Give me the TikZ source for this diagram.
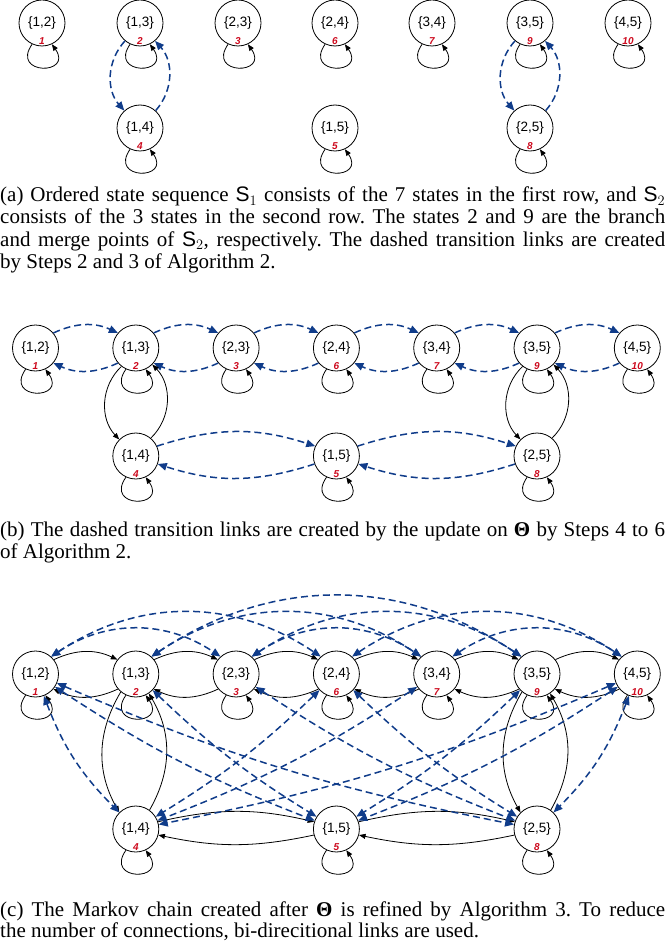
\documentclass[tikz,border=0pt]{standalone}
\usepackage{fontspec}
\setmainfont{Liberation Serif}
\setsansfont{Liberation Sans}
\usetikzlibrary{arrows.meta,calc}
\definecolor{dblue}{RGB}{16,60,138}
\definecolor{idxred}{RGB}{205,10,30}
\frenchspacing
\tikzset{
 st/.style={circle,draw,line width=0.8pt,minimum size=46pt,inner sep=0pt,font=\sffamily\fontsize{13.5}{14}\selectfont},
 idx/.style={inner sep=0pt,text=idxred,font=\sffamily\bfseries\itshape\fontsize{10}{10}\selectfont},
 sl/.style={line width=0.8pt,-{Triangle[length=6.5pt,width=5pt]}},
 dl/.style={draw=dblue,line width=1.5pt,dash pattern=on 7pt off 4pt,-{Triangle[length=9pt,width=7.5pt]}},
 dlb/.style={draw=dblue,line width=1.5pt,dash pattern=on 7pt off 4pt,{Triangle[length=9pt,width=7.5pt]}-{Triangle[length=9pt,width=7.5pt]}},
 captxt/.style={inner sep=0pt,anchor=base west,font=\fontsize{21}{22}\selectfont},
}
\newcommand\mkst[5]{%
 \node[st] (#1#2) at (#4,-#5) {#3};
 \node[idx] (#1#2i) at ([yshift=-18.5pt]#1#2.center) {#2};
 \draw[sl] (#1#2.-115) .. controls +(-125:38) and +(-55:38) .. (#1#2.-65);
}
\begin{document}
\begin{tikzpicture}[x=1pt,y=1pt]
\useasboundingbox (0,0) rectangle (665,-941);
% ---------- panel (a)
\mkst{a}{1}{\{1,2\}}{42}{23}
\mkst{a}{2}{\{1,3\}}{140}{23}
\mkst{a}{3}{\{2,3\}}{238}{23}
\mkst{a}{6}{\{2,4\}}{335}{23}
\mkst{a}{7}{\{3,4\}}{432}{23}
\mkst{a}{9}{\{3,5\}}{530}{23}
\mkst{a}{10}{\{4,5\}}{628}{23}
\mkst{a}{4}{\{1,4\}}{140}{128}
\mkst{a}{5}{\{1,5\}}{335}{128}
\mkst{a}{8}{\{2,5\}}{530}{128}
\draw[dl] (a2.-130) to[bend right=42] (a4.132);
\draw[dl] (a4.48) to[bend right=42] (a2.-50);
\draw[dl] (a9.-130) to[bend right=42] (a8.132);
\draw[dl] (a8.48) to[bend right=42] (a9.-50);
\node[captxt] (capa1) at (0,-202) {\makebox[665pt][s]{(a) Ordered state sequence $\mathsf{S}_1$ consists of the 7 states in the first row, and $\mathsf{S}_2$}};
\node[captxt] (capa2) at (0,-224) {\makebox[665pt][s]{consists of the 3 states in the second row. The states 2 and 9 are the branch}};
\node[captxt] (capa3) at (0,-246) {\makebox[665pt][s]{and merge points of $\mathsf{S}_2$, respectively. The dashed transition links are created}};
\node[captxt] (capa4) at (0,-268) {by Steps 2 and 3 of Algorithm 2.};
% ---------- panel (b)
\mkst{b}{1}{\{1,2\}}{35.5}{348}
\mkst{b}{2}{\{1,3\}}{135.8}{348}
\mkst{b}{3}{\{2,3\}}{236.1}{348}
\mkst{b}{6}{\{2,4\}}{336.4}{348}
\mkst{b}{7}{\{3,4\}}{436.7}{348}
\mkst{b}{9}{\{3,5\}}{537}{348}
\mkst{b}{10}{\{4,5\}}{637.3}{348}
\mkst{b}{4}{\{1,4\}}{135.8}{456}
\mkst{b}{5}{\{1,5\}}{336.4}{456}
\mkst{b}{8}{\{2,5\}}{537}{456}
\foreach \i/\j in {1/2,2/3,3/6,6/7,7/9,9/10}{
 \draw[dl] (b\i.40) to[bend left=25] (b\j.140);
 \draw[dl] (b\j.-140) to[bend left=25] (b\i.-40);
}
\draw[sl] (b2.-128) to[bend right=45] (b4.135);
\draw[sl] (b4.50) to[bend right=45] (b2.-45);
\draw[sl] (b9.-128) to[bend right=45] (b8.135);
\draw[sl] (b8.50) to[bend right=45] (b9.-45);
\draw[dl] (b4.25) to[bend left=18] (b5.155);
\draw[dl] (b5.-160) to[bend left=18] (b4.-20);
\draw[dl] (b5.25) to[bend left=18] (b8.155);
\draw[dl] (b8.-160) to[bend left=18] (b5.-20);
\node[captxt] (capb1) at (0,-536) {\makebox[665pt][s]{(b) The dashed transition links are created by the update on {\bfseries Θ} by Steps 4 to 6}};
\node[captxt] (capb2) at (0,-558) {of Algorithm 2.};
% ---------- panel (c)
\mkst{c}{1}{\{1,2\}}{35.5}{674}
\mkst{c}{2}{\{1,3\}}{135.8}{674}
\mkst{c}{3}{\{2,3\}}{236.1}{674}
\mkst{c}{6}{\{2,4\}}{336.4}{674}
\mkst{c}{7}{\{3,4\}}{436.7}{674}
\mkst{c}{9}{\{3,5\}}{537}{674}
\mkst{c}{10}{\{4,5\}}{637.3}{674}
\mkst{c}{4}{\{1,4\}}{135.8}{829}
\mkst{c}{5}{\{1,5\}}{336.4}{829}
\mkst{c}{8}{\{2,5\}}{537}{829}
\foreach \i/\j in {1/2,2/3,3/6,6/7,7/9,9/10}{
 \draw[sl] (c\i.38) to[bend left=25] (c\j.142);
 \draw[sl] (c\j.-140) to[bend left=25] (c\i.-40);
}
\draw[sl] (c4.18) to[bend left=13] (c5.162);
\draw[sl] (c5.-165) to[bend left=12] (c4.-15);
\draw[sl] (c5.18) to[bend left=13] (c8.162);
\draw[sl] (c8.-165) to[bend left=12] (c5.-15);
\draw[sl] (c2.-130) to[bend right=30] (c4.135);
\draw[sl] (c4.54) to[bend right=30] (c2.-56);
\draw[sl] (c9.-130) to[bend right=30] (c8.135);
\draw[sl] (c8.54) to[bend right=30] (c9.-56);
\foreach \i/\j in {1/3,1/6,2/7,2/9,3/7,3/9,6/10,7/10}{
 \draw[dlb] (c\i.48) to[bend left=34] (c\j.132);
}
\draw[dlb] (c1) to[bend right=12] (c4);
\draw[dlb] (c1) to[bend right=6] (c5);
\draw[dlb] (c1) to[bend right=6] (c8);
\draw[dlb] (c2) to[bend right=6] (c5);
\draw[dlb] (c3) to[bend right=6] (c8);
\draw[dlb] (c6) to[bend left=6] (c4);
\draw[dlb] (c6) to[bend right=6] (c8);
\draw[dlb] (c7) to[bend left=6] (c4);
\draw[dlb] (c9) to[bend left=6] (c5);
\draw[dlb] (c10) to[bend left=6] (c4);
\draw[dlb] (c10) to[bend left=6] (c5);
\draw[dlb] (c10) to[bend left=12] (c8);
\node[captxt] (capc1) at (0,-916) {\makebox[665pt][s]{(c) The Markov chain created after {\bfseries Θ} is refined by Algorithm 3. To reduce}};
\node[captxt] (capc2) at (0,-937) {the number of connections, bi-direcitional links are used.};
\end{tikzpicture}
\end{document}
